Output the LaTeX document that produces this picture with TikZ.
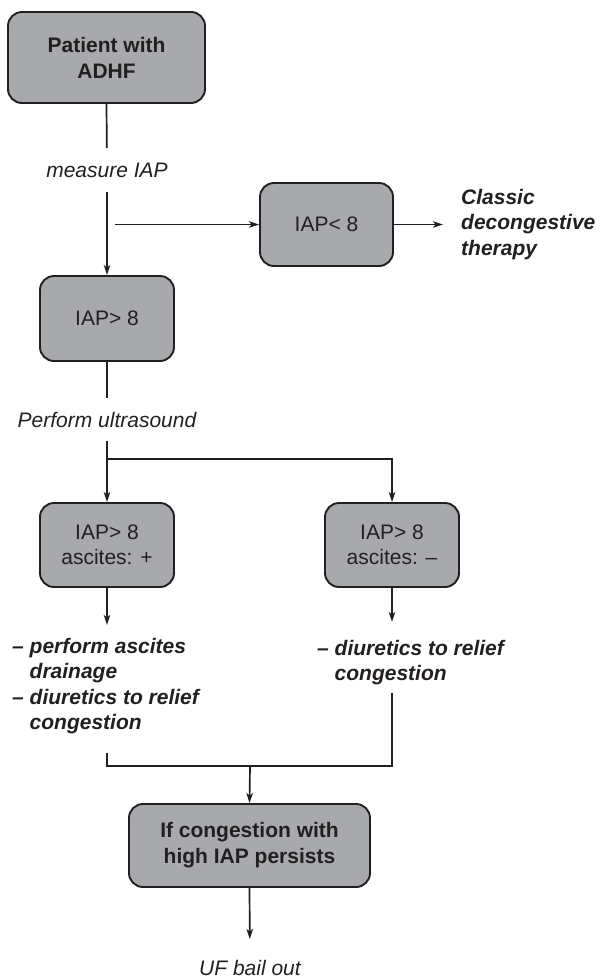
\documentclass[tikz,border=0pt]{standalone}
\usepackage{fontspec}
\setmainfont{Liberation Sans}
\usetikzlibrary{arrows.meta}
\definecolor{boxgray}{HTML}{A7A9AC}
\definecolor{ink}{HTML}{231F20}
\begin{document}
\begin{tikzpicture}[x=1pt,y=-1pt,
  box/.style={draw=ink, line width=1.9pt, fill=boxgray, rounded corners=14pt, inner sep=0pt, align=center, text=ink, font=\fontsize{21}{25.5}\selectfont},
  boldbox/.style={box, font=\fontsize{21}{26}\selectfont\bfseries},
  lbl/.style={inner sep=0pt, text=ink, font=\fontsize{21}{25.5}\selectfont\itshape},
  blbl/.style={inner sep=0pt, text=ink, align=left, font=\fontsize{21}{25.5}\selectfont\bfseries\itshape},
  conn/.style={draw=ink, line width=1.7pt},
  arr/.style={conn, -{Stealth[length=10pt,width=6.5pt,inset=2.5pt]}}]
\useasboundingbox (0,0) rectangle (600,980);

% nodes
\node[boldbox, minimum width=197pt, minimum height=91pt] (b1) at (106.5,57.5) {Patient with\\ADHF};
\node[lbl] (m1) at (107,170) {measure IAP};
\node[box, minimum width=133pt, minimum height=83pt] (b3) at (326.5,224.5) {IAP< 8};
\node[blbl, anchor=west] (t3) at (461,224.5) {Classic\\decongestive\\therapy};
\node[box, minimum width=134pt, minimum height=85pt] (b2) at (107,318.5) {IAP> 8};
\node[lbl] (t2) at (107,420) {Perform ultrasound};
\node[box, minimum width=134pt, minimum height=84pt] (b4) at (107,545) {IAP> 8\\ascites: +};
\node[box, minimum width=134pt, minimum height=84pt] (b5) at (392,545) {IAP> 8\\ascites: –};
\node[blbl, anchor=north west] (t4) at (12,637) {\rule{0pt}{16pt}– perform ascites\\\phantom{–}\ drainage\\– diuretics to relief\\\phantom{–}\ congestion};
\node[blbl, anchor=north west] (t5) at (317,639) {\rule{0pt}{16pt}– diuretics to relief\\\phantom{–}\ congestion};
\node[boldbox, minimum width=241pt, minimum height=83pt] (b6) at (249.5,845.5) {If congestion with\\high IAP persists};
\node[lbl] (t6) at (250,968) {UF bail out};

% free ends
\coordinate (br) at (115,224.5);
\coordinate (j2) at (107,459);
\coordinate (e4) at (107,625);
\coordinate (e5) at (392,622);
\coordinate (s4) at (107,753);
\coordinate (s5) at (392,693);
\coordinate (jn) at (250,766);

% connectors
\draw[conn, shorten >=22pt] (b1.south) -- (m1.center);
\draw[arr, shorten <=22pt] (m1.center) -- (b2.north);
\draw[arr] (br) -- (b3.west);
\draw[arr, shorten >=18pt] (b3.east) -- (t3.west);
\draw[conn, shorten >=22pt] (b2.south) -- (t2.center);
\draw[arr, shorten <=21pt] (t2.center) -- (b4.north);
\draw[arr] (j2) -| (b5.north);
\draw[arr] (b4.south) -- (e4);
\draw[arr] (b5.south) -- (e5);
\draw[conn] (s4) |- (jn) -| (s5);
\draw[arr] (jn) -- (b6.north);
\draw[arr, shorten >=29pt] (b6.south) -- (t6.center);
\end{tikzpicture}
\end{document}
